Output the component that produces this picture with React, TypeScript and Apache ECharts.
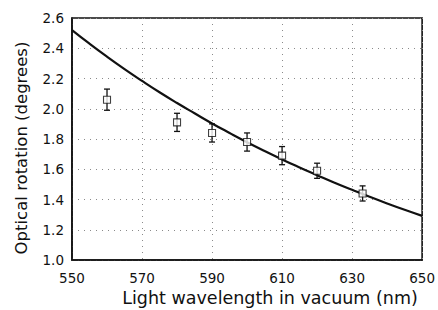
import React, { useEffect, useRef } from "react";
import * as echarts from "echarts";

// Measured points (wavelength nm, rotation deg, error +/-)
const measWavelength = [560, 580, 590, 600, 610, 620, 633];
const measRotation = [2.06, 1.91, 1.84, 1.78, 1.69, 1.59, 1.44];
const measError = [0.07, 0.06, 0.06, 0.06, 0.06, 0.05, 0.05];

// Theory curve
const curveWavelength = [550, 555, 560, 565, 570, 575, 580, 585, 590, 595, 600, 605, 610, 615, 620, 625, 630, 635, 640, 645, 650];
const curveRotation = [2.52, 2.43, 2.344, 2.262, 2.184, 2.109, 2.038, 1.97, 1.903, 1.84, 1.779, 1.721, 1.665, 1.612, 1.561, 1.511, 1.464, 1.418, 1.374, 1.332, 1.292];

const xTicks = [550, 570, 590, 610, 630, 650];
const yTicks = [1.0, 1.2, 1.4, 1.6, 1.8, 2.0, 2.2, 2.4, 2.6];

const xTitle = "Light wavelength in vacuum (nm)";
const yTitle = "Optical rotation (degrees)";

export default function App() {
  const ref = useRef<HTMLDivElement>(null);
  useEffect(() => {
    if (!ref.current) return;
    const chart = echarts.init(ref.current, null, { renderer: "svg" });
    const font = "'DejaVu Sans', 'Liberation Sans', Arial, sans-serif";
    const curveData = curveWavelength.map((x, i) => [x, curveRotation[i]]);
    const pointData = measWavelength.map((x, i) => [x, measRotation[i]]);
    const errData = measWavelength.map((x, i) => [x, measRotation[i] - measError[i], measRotation[i] + measError[i]]);
    const dotted = { color: "#8a8a8a", type: [1, 5], width: 1 };
    chart.setOption({
      animation: false,
      backgroundColor: "#ffffff",
      grid: {
        left: 72,
        right: 13,
        top: 18,
        bottom: 50,
        show: true,
        borderColor: "#111",
        borderWidth: 1.6,
        backgroundColor: "transparent",
      },
      graphic: [
        {
          type: "text",
          x: 270,
          y: 298,
          style: {
            text: xTitle,
            fontFamily: font,
            fontSize: 17.5,
            fill: "#111",
            textAlign: "center",
            textVerticalAlign: "middle",
          },
        },
        {
          type: "text",
          x: 21,
          y: 148,
          rotation: Math.PI / 2,
          style: {
            text: yTitle,
            fontFamily: font,
            fontSize: 16.5,
            fill: "#111",
            textAlign: "center",
            textVerticalAlign: "middle",
          },
        },
      ],
      xAxis: {
        type: "value",
        min: xTicks[0],
        max: xTicks[xTicks.length - 1],
        interval: 20,
        axisLine: { show: true, lineStyle: { color: "#111", width: 1.6 } },
        axisTick: { show: false },
        axisLabel: { fontFamily: font, fontSize: 13.5, color: "#111", margin: 11 },
        splitLine: { show: true, lineStyle: dotted },
      },
      yAxis: {
        type: "value",
        min: yTicks[0],
        max: yTicks[yTicks.length - 1],
        interval: 0.2,
        axisLine: { show: true, lineStyle: { color: "#111", width: 1.6 } },
        axisTick: { show: false },
        axisLabel: {
          fontFamily: font,
          fontSize: 13.5,
          color: "#111",
          margin: 8,
          formatter: (v: number) => v.toFixed(1),
        },
        splitLine: { show: true, lineStyle: dotted },
      },
      series: [
        {
          type: "line",
          data: curveData,
          smooth: true,
          showSymbol: false,
          lineStyle: { color: "#111", width: 2.2 },
          z: 2,
        },
        {
          type: "custom",
          data: errData,
          z: 3,
          renderItem: (params: any, api: any) => {
            const x = api.value(0);
            const lo = api.coord([x, api.value(1)]);
            const hi = api.coord([x, api.value(2)]);
            const cap = 3;
            const style = { stroke: "#111", lineWidth: 1.3 };
            return {
              type: "group",
              children: [
                { type: "line", shape: { x1: lo[0], y1: lo[1], x2: hi[0], y2: hi[1] }, style },
                { type: "line", shape: { x1: lo[0] - cap, y1: lo[1], x2: lo[0] + cap, y2: lo[1] }, style },
                { type: "line", shape: { x1: hi[0] - cap, y1: hi[1], x2: hi[0] + cap, y2: hi[1] }, style },
              ],
            };
          },
        },
        {
          type: "scatter",
          data: pointData,
          symbol: "rect",
          symbolSize: 7,
          itemStyle: { color: "#fff", borderColor: "#111", borderWidth: 1.1 },
          z: 4,
        },
      ],
    });
    return () => chart.dispose();
  }, []);
  return (
    <div
      ref={ref}
      style={{ position: "absolute", left: 0, top: 0, width: 438, height: 310 }}
    />
  );
}
